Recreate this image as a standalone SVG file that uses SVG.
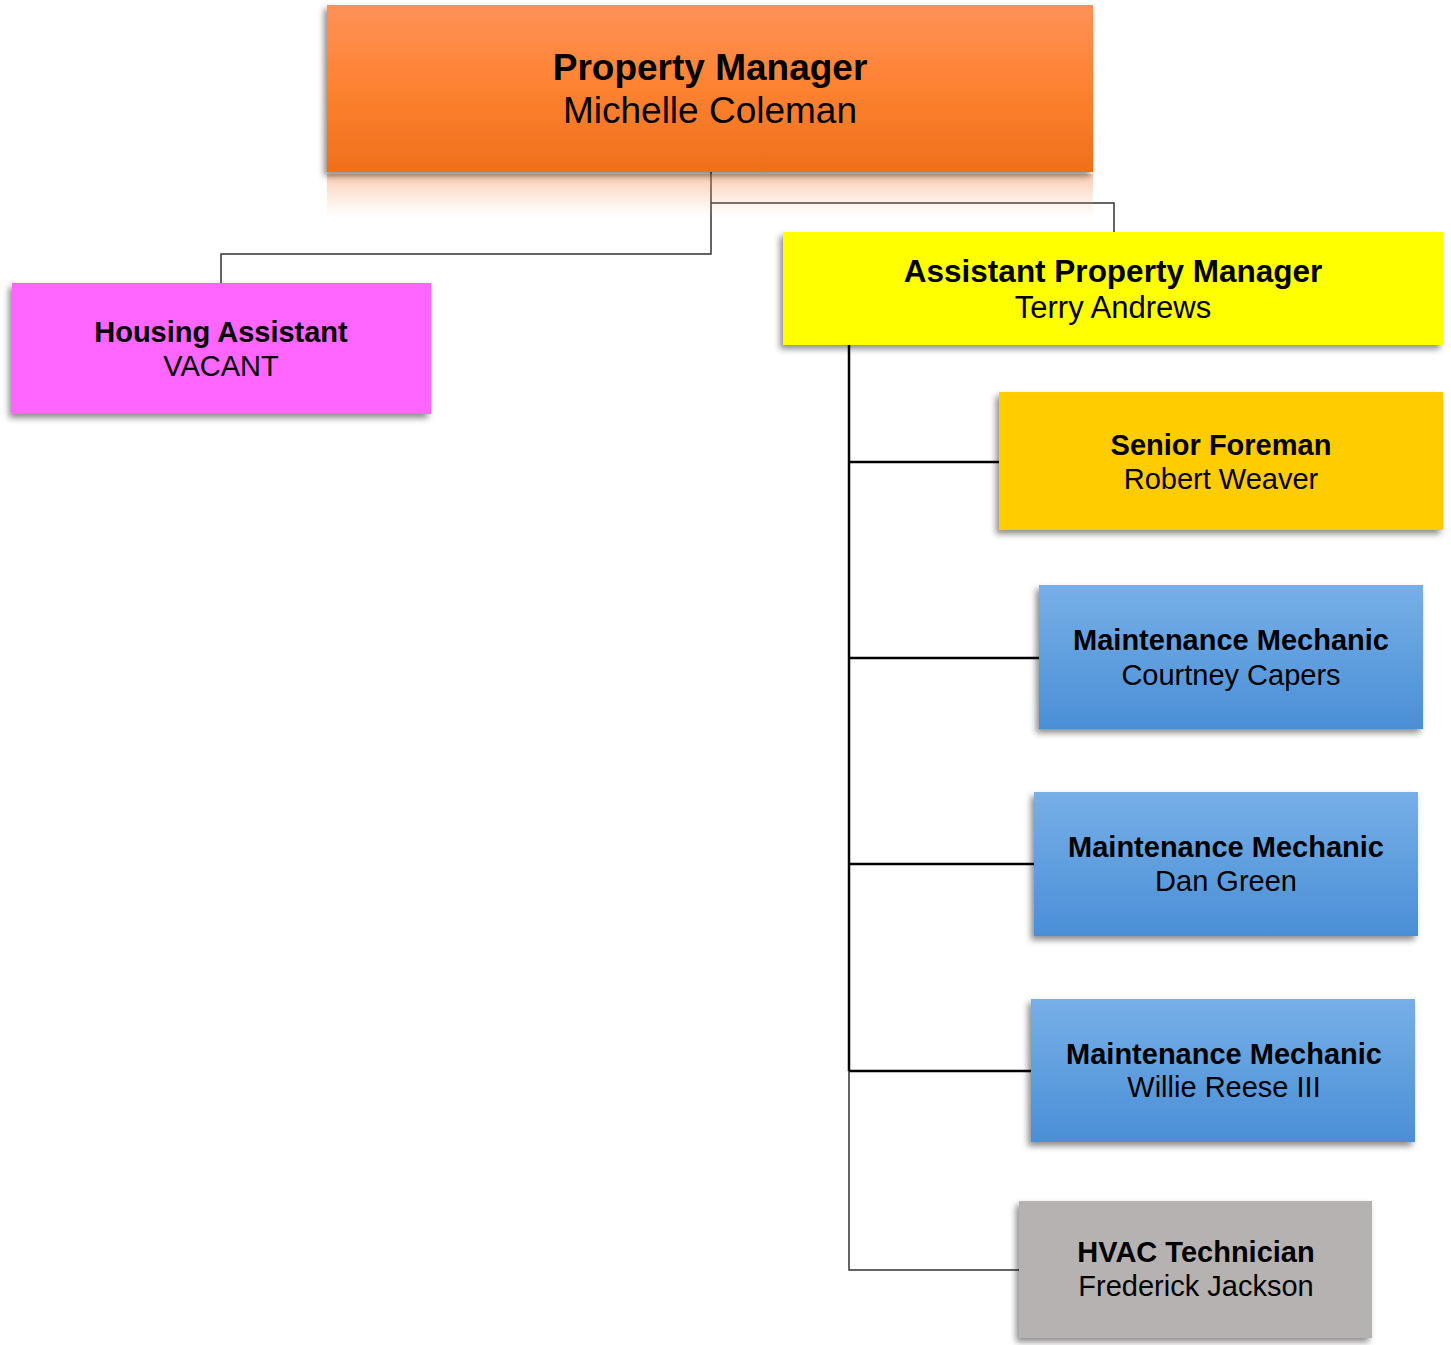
<svg xmlns="http://www.w3.org/2000/svg" width="1451" height="1345" viewBox="0 0 1451 1345">
<style>
text{font-family:"Liberation Sans",Arial,sans-serif;fill:#000;text-anchor:middle}
.t{font-weight:bold}
.thin{stroke:#333;stroke-width:1.5;fill:none}
.thick{stroke:#000;stroke-width:2.5;fill:none}
</style>
<defs>
<filter id="sh" x="-10%" y="-20%" width="120%" height="150%">
<feDropShadow dx="-3" dy="4" stdDeviation="3" flood-color="#000" flood-opacity="0.45"/>
</filter>
<linearGradient id="gOr" x1="0" y1="0" x2="0" y2="1">
<stop offset="0" stop-color="#FF9157"/>
<stop offset="0.5" stop-color="#FD8230"/>
<stop offset="1" stop-color="#EF6F1C"/>
</linearGradient>
<linearGradient id="gRef" x1="0" y1="0" x2="0" y2="1">
<stop offset="0" stop-color="#F3894A" stop-opacity="0.45"/>
<stop offset="1" stop-color="#F8B08A" stop-opacity="0"/>
</linearGradient>
<linearGradient id="gBl" x1="0" y1="0" x2="0" y2="1">
<stop offset="0" stop-color="#77AFE7"/>
<stop offset="1" stop-color="#4A8FD6"/>
</linearGradient>
</defs>
<rect width="1451" height="1345" fill="#fff"/>
<g id="connectors">
<path class="thin" d="M711 172V254H221V283"/>
<path class="thin" d="M711 203H1114V232"/>
<path class="thick" d="M849 345V1071"/>
<path class="thin" d="M849 1071V1270H1019"/>
<path class="thick" d="M849 462H999"/>
<path class="thick" d="M849 658H1039"/>
<path class="thick" d="M849 864H1034"/>
<path class="thick" d="M849 1071H1031"/>
</g>
<g id="property-manager">
<rect x="327" y="174" width="766" height="44" fill="url(#gRef)"/>
<rect x="327" y="5" width="766" height="167" fill="url(#gOr)" filter="url(#sh)"/>
<text class="t" x="710" y="80" font-size="37">Property Manager</text>
<text x="710" y="123" font-size="37">Michelle Coleman</text>
</g>
<g id="housing-assistant">
<rect x="12" y="283" width="419" height="131" fill="#FF66FF" filter="url(#sh)"/>
<text class="t" x="221" y="342" font-size="29">Housing Assistant</text>
<text x="221" y="376" font-size="29">VACANT</text>
</g>
<g id="assistant-property-manager">
<rect x="783" y="232" width="660" height="113" fill="#FFFF00" filter="url(#sh)"/>
<text class="t" x="1113" y="282" font-size="31.5">Assistant Property Manager</text>
<text x="1113" y="318" font-size="31">Terry Andrews</text>
</g>
<g id="senior-foreman">
<rect x="999" y="392" width="444" height="138" fill="#FFCC00" filter="url(#sh)"/>
<text class="t" x="1221" y="455" font-size="29">Senior Foreman</text>
<text x="1221" y="489" font-size="29">Robert Weaver</text>
</g>
<g id="mechanic-courtney">
<rect x="1039" y="585" width="384" height="144" fill="url(#gBl)" filter="url(#sh)"/>
<text class="t" x="1231" y="650" font-size="29">Maintenance Mechanic</text>
<text x="1231" y="685" font-size="29">Courtney Capers</text>
</g>
<g id="mechanic-dan">
<rect x="1034" y="792" width="384" height="144" fill="url(#gBl)" filter="url(#sh)"/>
<text class="t" x="1226" y="857" font-size="29">Maintenance Mechanic</text>
<text x="1226" y="891" font-size="29">Dan Green</text>
</g>
<g id="mechanic-willie">
<rect x="1031" y="999" width="384" height="143" fill="url(#gBl)" filter="url(#sh)"/>
<text class="t" x="1224" y="1064" font-size="29">Maintenance Mechanic</text>
<text x="1224" y="1097" font-size="29">Willie Reese III</text>
</g>
<g id="hvac-technician">
<rect x="1019" y="1201" width="353" height="137" fill="#B5B2B1" filter="url(#sh)"/>
<text class="t" x="1196" y="1262" font-size="29">HVAC Technician</text>
<text x="1196" y="1296" font-size="29">Frederick Jackson</text>
</g>
</svg>
